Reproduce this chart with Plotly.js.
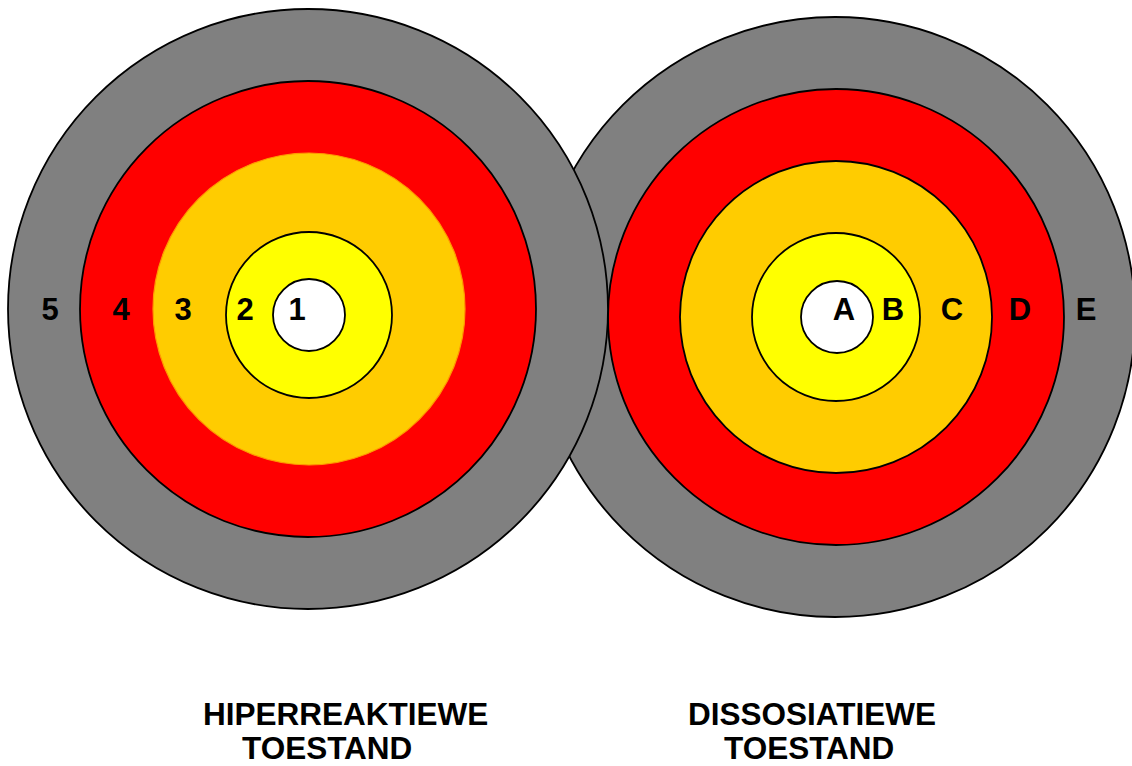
<!DOCTYPE html>
<html>
<head>
<meta charset="utf-8">
<script src="https://cdn.plot.ly/plotly-3.0.1.min.js"></script>
<style>html,body{margin:0;padding:0;background:#fff;}#chart{width:1132px;height:766px;}</style>
</head>
<body>
<div id="chart"></div>
<script>
// ---- data ----
// ring radii (outer to inner), same order for both targets
const ringNames = ['outer', 'ring4', 'ring3', 'ring2', 'core'];
const leftRadii = [300, 228, 156, 83, 36];
const rightRadii = [300, 228, 156, 84, 36];
const ringColors = ['#808080', '#FF0000', '#FFCC00', '#FFFF00', '#FFFFFF'];
// ring centres
const leftCenterX = [308, 308, 309, 309, 309];
const leftCenterY = [309, 309, 309, 315, 315];
const rightCenterX = [835, 836, 836, 836, 837];
const rightCenterY = [317, 317, 317, 317, 317];
// zone labels
const leftLabels = ['5', '4', '3', '2', '1'];
const leftLabelX = [50, 121, 183, 245, 297];
const leftLabelY = [312, 312, 312, 312, 312];
const rightLabels = ['A', 'B', 'C', 'D', 'E'];
const rightLabelX = [844, 893, 952, 1020, 1086];
const rightLabelY = [312, 312, 312, 312, 312];
// captions
const leftCaption = ['HIPERREAKTIEWE', 'TOESTAND'];
const leftCaptionX = [202, 241];
const rightCaption = ['DISSOSIATIEWE', 'TOESTAND'];
const rightCaptionX = [687, 723];
const captionY = [714, 748];

// ---- build ----
const shapes = [];
function addTarget(cx, cy, radii, outlineColors) {
  radii.forEach((r, i) => {
    shapes.push({
      type: 'circle', xref: 'x', yref: 'y', layer: 'below',
      x0: cx[i] - r, x1: cx[i] + r, y0: cy[i] - r, y1: cy[i] + r,
      fillcolor: ringColors[i],
      line: {color: outlineColors[i], width: outlineColors[i] === '#000000' ? 1.8 : 1.2}
    });
  });
}
// right target drawn first (left one overlaps it)
addTarget(rightCenterX, rightCenterY, rightRadii, ['#000000', '#000000', '#000000', '#000000', '#000000']);
addTarget(leftCenterX, leftCenterY, leftRadii, ['#000000', '#000000', '#FF9900', '#000000', '#000000']);

const labelFont = {family: 'Liberation Sans, Arial, sans-serif', size: 31, color: '#000000', weight: 'bold'};
const traces = [
  {type: 'scatter', mode: 'text', x: leftLabelX, y: leftLabelY, text: leftLabels,
   textposition: 'middle center', textfont: labelFont, hoverinfo: 'skip', showlegend: false},
  {type: 'scatter', mode: 'text', x: rightLabelX, y: rightLabelY, text: rightLabels,
   textposition: 'middle center', textfont: labelFont, hoverinfo: 'skip', showlegend: false}
];

const capFont = {family: 'Liberation Sans, Arial, sans-serif', size: 31.5, color: '#000000', weight: 'bold'};
const annotations = [];
leftCaption.forEach((t, i) => annotations.push({
  xref: 'x', yref: 'y', x: leftCaptionX[i], y: captionY[i], text: '<b>' + t + '</b>',
  showarrow: false, xanchor: 'left', yanchor: 'middle', font: capFont, borderpad: 0
}));
rightCaption.forEach((t, i) => annotations.push({
  xref: 'x', yref: 'y', x: rightCaptionX[i], y: captionY[i], text: '<b>' + t + '</b>',
  showarrow: false, xanchor: 'left', yanchor: 'middle', font: capFont, borderpad: 0
}));

const layout = {
  width: 1132, height: 766,
  margin: {l: 0, r: 0, t: 0, b: 0, pad: 0},
  paper_bgcolor: '#ffffff', plot_bgcolor: 'rgba(0,0,0,0)',
  xaxis: {range: [0, 1132], visible: false, fixedrange: true},
  yaxis: {range: [766, 0], visible: false, fixedrange: true},
  shapes: shapes,
  annotations: annotations,
  showlegend: false
};
Plotly.newPlot('chart', traces, layout, {staticPlot: true, displayModeBar: false});
</script>
</body>
</html>
